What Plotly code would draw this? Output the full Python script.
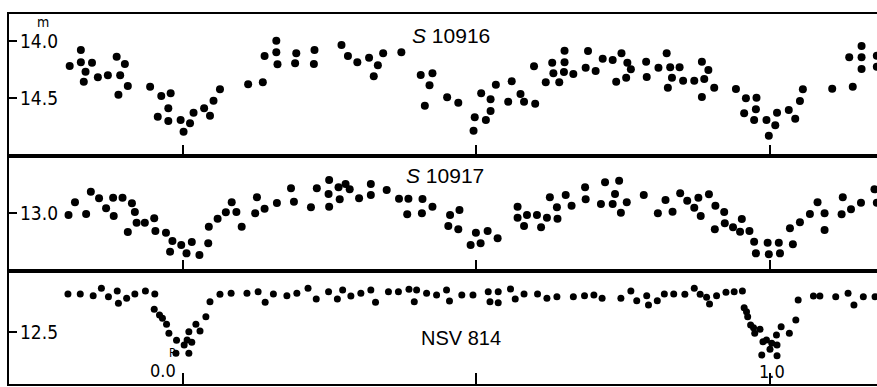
import plotly.graph_objects as go

# ---------------- data (phase, magnitude) ----------------
s10916_phase = [-0.193, -0.174, -0.174, -0.166, -0.169, -0.155, -0.145, -0.128, -0.113, -0.099,
                -0.107, -0.094, -0.110, -0.056, -0.037, -0.021, -0.025, -0.043, -0.025, -0.004,
                0.001, 0.012, 0.018, 0.036, 0.046, 0.052, 0.063, 0.111, 0.136, 0.139,
                0.159, 0.159, 0.161, 0.193, 0.191, 0.224, 0.223, 0.270, 0.281, 0.297,
                0.317, 0.332, 0.341, 0.325, 0.372, 0.405, 0.425, 0.420, 0.412, 0.450,
                0.469, 0.497, 0.495, 0.516, 0.524, 0.508, 0.524, 0.533, 0.554, 0.560,
                0.575, 0.581, 0.600, 0.598, 0.618, 0.629, 0.631, 0.641, 0.650, 0.650,
                0.649, 0.665, 0.690, 0.686, 0.703, 0.715, 0.732, 0.747, 0.757, 0.763,
                0.755, 0.738, 0.789, 0.790, 0.810, 0.824, 0.830, 0.846, 0.833, 0.826,
                0.852, 0.871, 0.884, 0.895, 0.888, 0.884, 0.905, 0.942, 0.959, 0.977,
                0.956, 0.976, 0.973, 0.994, 0.998, 1.009, 1.012, 1.032, 1.043, 1.051,
                1.056, 1.106, 1.141, 1.135, 1.156, 1.156, 1.156, 1.182, 1.182]
s10916_mag = [14.219, 14.079, 14.187, 14.269, 14.357, 14.190, 14.318, 14.301, 14.138, 14.202,
              14.301, 14.395, 14.471, 14.401, 14.482, 14.459, 14.590, 14.664, 14.702, 14.693,
              14.796, 14.722, 14.629, 14.590, 14.655, 14.524, 14.424, 14.380, 14.362, 14.132,
              13.997, 14.099, 14.204, 14.108, 14.196, 14.079, 14.202, 14.035, 14.132, 14.187,
              14.146, 14.213, 14.108, 14.310, 14.099, 14.298, 14.283, 14.389, 14.568, 14.494,
              14.541, 14.669, 14.787, 14.693, 14.614, 14.459, 14.511, 14.383, 14.532, 14.354,
              14.465, 14.532, 14.550, 14.222, 14.362, 14.190, 14.283, 14.362, 14.085, 14.187,
              14.272, 14.289, 14.088, 14.234, 14.263, 14.155, 14.167, 14.108, 14.190, 14.248,
              14.322, 14.357, 14.182, 14.316, 14.234, 14.108, 14.231, 14.231, 14.322, 14.410,
              14.348, 14.348, 14.182, 14.254, 14.333, 14.491, 14.410, 14.421, 14.503, 14.497,
              14.634, 14.599, 14.693, 14.693, 14.831, 14.739, 14.629, 14.605, 14.682, 14.526,
              14.424, 14.418, 14.401, 14.143, 14.044, 14.143, 14.246, 14.129, 14.225]

s10917_phase = [-0.195, -0.184, -0.165, -0.157, -0.143, -0.131, -0.119, -0.118, -0.103, -0.087,
                -0.082, -0.079, -0.094, -0.065, -0.049, -0.047, -0.029, -0.018, -0.022, -0.003,
                0.015, 0.006, 0.028, 0.043, 0.044, 0.059, 0.073, 0.083, 0.091, 0.100,
                0.123, 0.126, 0.139, 0.160, 0.184, 0.189, 0.218, 0.228, 0.249, 0.248,
                0.249, 0.265, 0.277, 0.284, 0.267, 0.300, 0.320, 0.320, 0.347, 0.368,
                0.384, 0.382, 0.408, 0.407, 0.425, 0.455, 0.471, 0.452, 0.469, 0.499,
                0.519, 0.490, 0.507, 0.536, 0.570, 0.570, 0.586, 0.581, 0.603, 0.610,
                0.620, 0.625, 0.637, 0.638, 0.652, 0.662, 0.685, 0.686, 0.712, 0.719,
                0.743, 0.736, 0.732, 0.746, 0.756, 0.785, 0.809, 0.822, 0.834, 0.847,
                0.859, 0.871, 0.878, 0.882, 0.896, 0.907, 0.922, 0.923, 0.906, 0.937,
                0.949, 0.952, 0.965, 0.973, 0.976, 0.996, 0.998, 1.015, 1.017, 1.039,
                1.034, 1.051, 1.068, 1.081, 1.093, 1.093, 1.122, 1.124, 1.138, 1.155,
                1.178, 1.182]
s10917_mag = [13.018, 12.906, 13.009, 12.813, 12.871, 12.959, 12.866, 13.026, 12.866, 12.915,
              12.991, 13.085, 13.167, 13.085, 13.046, 13.158, 13.173, 13.246, 13.339, 13.281,
              13.254, 13.354, 13.368, 13.266, 13.120, 13.050, 12.994, 12.906, 12.991, 13.120,
              13.003, 12.862, 12.962, 12.912, 12.783, 12.901, 12.950, 12.783, 12.711, 12.833,
              12.945, 12.775, 12.746, 12.792, 12.880, 12.871, 12.746, 12.842, 12.798, 12.875,
              12.875, 13.011, 12.877, 13.003, 12.945, 13.018, 12.974, 13.114, 13.143, 13.173,
              13.158, 13.281, 13.266, 13.222, 12.945, 13.041, 13.018, 13.114, 13.018, 13.125,
              13.041, 12.862, 12.950, 13.050, 12.842, 12.936, 12.775, 12.880, 12.921, 12.731,
              12.717, 12.833, 12.921, 12.997, 12.906, 12.842, 13.003, 12.886, 12.989, 12.827,
              12.892, 12.954, 12.866, 13.026, 12.836, 12.936, 12.991, 13.090, 13.143, 13.125,
              13.164, 13.053, 13.158, 13.252, 13.354, 13.261, 13.362, 13.261, 13.354, 13.275,
              13.134, 13.082, 13.009, 12.906, 13.003, 13.149, 13.011, 12.862, 12.968, 12.910,
              12.792, 12.910]

nsv814_phase = [-0.196, -0.175, -0.153, -0.139, -0.127, -0.112, -0.110, -0.096, -0.082, -0.064,
                -0.048, -0.049, -0.040, -0.035, -0.028, -0.024, -0.011, -0.012, 0.002, 0.010,
                0.007, 0.015, 0.010, 0.022, 0.029, 0.039, 0.046, 0.063, 0.082, 0.109,
                0.128, 0.140, 0.154, 0.177, 0.194, 0.213, 0.227, 0.248, 0.263, 0.272,
                0.286, 0.303, 0.320, 0.328, 0.350, 0.367, 0.385, 0.398, 0.394, 0.415,
                0.432, 0.449, 0.454, 0.475, 0.494, 0.520, 0.537, 0.523, 0.537, 0.558,
                0.566, 0.581, 0.604, 0.620, 0.637, 0.665, 0.684, 0.700, 0.714, 0.746,
                0.763, 0.773, 0.790, 0.793, 0.808, 0.820, 0.836, 0.855, 0.871, 0.881,
                0.892, 0.897, 0.909, 0.925, 0.939, 0.953, 0.956, 0.960, 0.962, 0.967,
                0.972, 0.974, 0.983, 0.988, 0.994, 1.003, 1.011, 1.012, 1.000, 0.986,
                1.012, 1.019, 1.033, 1.044, 1.048, 1.074, 1.085, 1.112, 1.133, 1.143,
                1.159, 1.179]
nsv814_mag = [12.167, 12.167, 12.182, 12.117, 12.190, 12.140, 12.248, 12.204, 12.167, 12.140,
              12.167, 12.301, 12.351, 12.380, 12.432, 12.511, 12.573, 12.687, 12.614, 12.687,
              12.570, 12.590, 12.497, 12.432, 12.491, 12.366, 12.234, 12.169, 12.161, 12.161,
              12.146, 12.239, 12.167, 12.182, 12.161, 12.117, 12.211, 12.146, 12.211, 12.132,
              12.184, 12.161, 12.132, 12.239, 12.146, 12.146, 12.125, 12.132, 12.234, 12.161,
              12.175, 12.132, 12.228, 12.175, 12.175, 12.146, 12.146, 12.234, 12.243, 12.123,
              12.211, 12.167, 12.167, 12.204, 12.190, 12.190, 12.182, 12.175, 12.204, 12.204,
              12.140, 12.225, 12.182, 12.263, 12.225, 12.167, 12.167, 12.169, 12.117, 12.169,
              12.196, 12.254, 12.182, 12.152, 12.146, 12.140, 12.287, 12.322, 12.366, 12.439,
              12.462, 12.511, 12.476, 12.585, 12.570, 12.599, 12.526, 12.614, 12.652, 12.702,
              12.708, 12.454, 12.511, 12.395, 12.219, 12.184, 12.184, 12.190, 12.161, 12.263,
              12.190, 12.190]

phase_ticks = [0.0, 0.5, 1.0]
top_ticks, top_labels = [14.0, 14.5], ["14.0", "14.5"]
mid_ticks, mid_labels = [13.0], ["13.0"]
bot_ticks, bot_labels = [12.5], ["12.5"]

# ---------------- figure ----------------
NUM_FONT = "Liberation Sans Narrow, DejaVu Sans Condensed, Arial Narrow, Liberation Sans, sans-serif"
TITLE_FONT = "Liberation Sans, Arial, sans-serif"
XR = [-0.2964, 1.1823]
R_TOP, R_MID, R_BOT = [15.009, 13.763], [13.509, 12.5], [12.956, 11.965]

fig = go.Figure()
fig.add_trace(go.Scatter(x=s10916_phase, y=s10916_mag, mode="markers",
                         marker=dict(color="black", size=8), xaxis="x", yaxis="y"))
fig.add_trace(go.Scatter(x=s10917_phase, y=s10917_mag, mode="markers",
                         marker=dict(color="black", size=8), xaxis="x2", yaxis="y2"))
fig.add_trace(go.Scatter(x=nsv814_phase, y=nsv814_mag, mode="markers",
                         marker=dict(color="black", size=7), xaxis="x3", yaxis="y3"))

xcommon = dict(range=XR, showline=True, linecolor="black", linewidth=2, mirror=True,
               ticks="inside", tickvals=phase_ticks, ticklen=11, tickwidth=2, tickcolor="black",
               showticklabels=False, showgrid=False, zeroline=False)
ytick = dict(showline=True, linecolor="black", linewidth=2, ticks="inside", ticklen=8,
             tickwidth=2, tickcolor="black", showticklabels=False,
             showgrid=False, zeroline=False)

d1, d2 = 0.3054, 0.6162
fig.update_layout(
    width=877, height=387,
    margin=dict(l=9, r=0, t=14, b=3),
    paper_bgcolor="white", plot_bgcolor="white",
    showlegend=False,
    xaxis=dict(xcommon, anchor="y", domain=[0, 1]),
    xaxis2=dict(xcommon, anchor="y2", domain=[0, 1], matches="x"),
    xaxis3=dict(xcommon, anchor="y3", domain=[0, 1], matches="x"),
    yaxis=dict(ytick, anchor="x", domain=[d2, 1], range=R_TOP, tickvals=top_ticks),
    yaxis2=dict(ytick, anchor="x2", domain=[d1, d2], range=R_MID, tickvals=mid_ticks),
    yaxis3=dict(ytick, anchor="x3", domain=[0, d1], range=R_BOT, tickvals=bot_ticks),
)

# magnitude labels just inside the frame, right of the inward ticks
LAB_X = (19 - 9) / 868
for yref, vals, labels in (("y", top_ticks, top_labels), ("y2", mid_ticks, mid_labels),
                           ("y3", bot_ticks, bot_labels)):
    for v, t in zip(vals, labels):
        fig.add_annotation(x=LAB_X, y=v, xref="paper", yref=yref, text=t, showarrow=False,
                           xanchor="left", yanchor="middle", borderpad=0,
                           font=dict(family=NUM_FONT, size=19, color="black"))

def px2paper(px, py):
    return (px - 9) / 868, (384 - py) / 370

anns = [
    ("m", 43, 22, 14, NUM_FONT),
    ("<i>S</i> 10916", 451, 36, 21, TITLE_FONT),
    ("<i>S</i> 10917", 445, 175, 21, TITLE_FONT),
    ("NSV 814", 461, 338, 20, TITLE_FONT),
    ("0.0", 163, 370, 18, NUM_FONT),
    ("P", 172, 353, 12, NUM_FONT),
    ("1.0", 772, 371, 18, NUM_FONT),
]
for text, px, py, size, fam in anns:
    ax, ay = px2paper(px, py)
    fig.add_annotation(x=ax, y=ay, xref="paper", yref="paper", text=text, showarrow=False,
                       xanchor="center", yanchor="middle",
                       font=dict(family=fam, size=size, color="black"))

fig.write_html("out.html", config={"displayModeBar": False},
               post_script="document.body.style.margin='0';document.body.style.overflow='hidden';")
